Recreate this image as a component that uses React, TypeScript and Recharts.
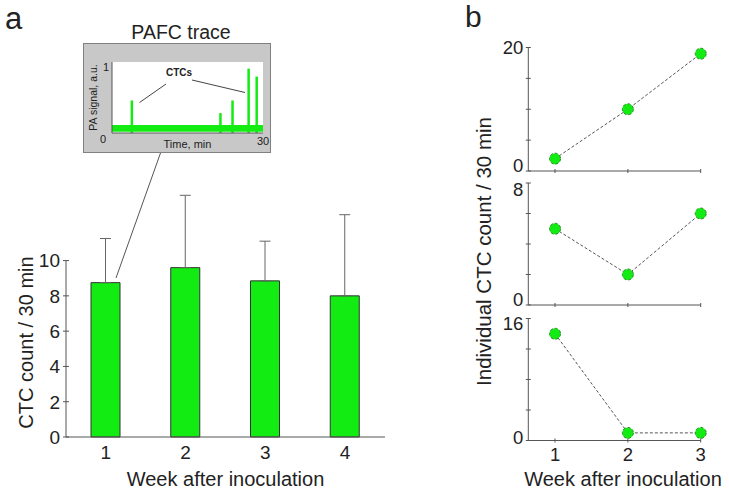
import React from 'react'
import {
  BarChart, Bar, XAxis, YAxis, ErrorBar, ReferenceLine,
  ComposedChart, CartesianGrid, ReferenceArea, LineChart, Line,
} from 'recharts'

const FONT = '"Liberation Sans", Arial, Helvetica, sans-serif'
const GREEN = '#12ec12'
const INK = '#222'
const AXIS = '#555'

// panel a: mean CTC count per 30 min, by week
const weeks = ['1', '2', '3', '4']
const meanCount = [8.75, 9.6, 8.85, 8.0]
const upperErr = [2.5, 4.1, 2.25, 4.6]
const countTicks = [0, 2, 4, 6, 8, 10]

// inset: PAFC trace (time in min, signal in a.u.)
const spikeTime = [3.9, 21.5, 23.9, 27.1, 28.7]
const spikeSignal = [0.49, 0.3, 0.49, 0.97, 0.85]
const noiseBand = [0.02, 0.12]

// panel b: individual animals
const bWeeks = [1, 2, 3]
const animal1 = [2, 10, 19]
const animal2 = [5, 2, 6]
const animal3 = [14, 1, 1]
const animal1Ticks = [0, 5, 10, 15, 20]
const animal2Ticks = [0, 2, 4, 6, 8]
const animal3Ticks = [0, 4, 8, 12, 16]

const barData = weeks.map((w, i) => ({ week: w, count: meanCount[i], err: [0, upperErr[i]] }))
const traceData = spikeTime.map((t, i) => ({ t, s: spikeSignal[i] }))

// tick with a short mark crossing the axis; shift moves an end label off its neighbour
function CrossYTick(props: any) {
  const { x, y, payload, gap, half, labels, fontSize, shift = {} } = props
  const ax = x + gap
  return (
    <g>
      <line x1={ax - half} x2={ax + half} y1={y} y2={y} stroke={AXIS} />
      {labels.includes(payload.value) && (
        <text x={x} y={y + (shift[payload.value] ?? 0)} dy="0.36em" textAnchor="end" fontSize={fontSize} fill={INK} fontFamily={FONT}>
          {payload.value}
        </text>
      )}
    </g>
  )
}

function CrossXTick(props: any) {
  const { x, y, payload, gap, half, showLabel, fontSize } = props
  const ay = y - gap
  return (
    <g>
      <line x1={x} x2={x} y1={ay - half} y2={ay + half} stroke={AXIS} />
      {showLabel && (
        <text x={x} y={y} dy="0.71em" textAnchor="middle" fontSize={fontSize} fill={INK} fontFamily={FONT}>
          {payload.value}
        </text>
      )}
    </g>
  )
}

function InsetYTick(props: any) {
  const { x, y, payload } = props
  const shift = payload.value === 0 ? 6 : 0
  return (
    <text x={x - (payload.value === 0 ? 3 : 0)} y={y + shift} dy="0.36em" textAnchor="end" fontSize={11} fill={INK} fontFamily={FONT}>
      {payload.value}
    </text>
  )
}

function IndividualChart({ values, ticks, top, height, marginTop, xHeight, showX, shift }: any) {
  const data = bWeeks.map((w, i) => ({ week: w, v: values[i] }))
  const max = ticks[ticks.length - 1]
  return (
    <div style={{ position: 'absolute', left: 470, top }}>
      <LineChart width={259} height={height} data={data} margin={{ top: marginTop, right: 28.3, left: 0, bottom: 0 }}>
        <XAxis
          dataKey="week" type="number" domain={[0.633, 3]} ticks={bWeeks} height={xHeight} interval={0}
          axisLine={{ stroke: AXIS }} tickLine={false} tickSize={0} tickMargin={7.5}
          tick={<CrossXTick gap={7.5} half={2} showLabel={showX} fontSize={18.5} />}
        />
        <YAxis
          type="number" domain={[0, max]} ticks={ticks} width={58.3} interval={0}
          axisLine={{ stroke: AXIS }} tickLine={false} tickSize={0} tickMargin={5}
          tick={<CrossYTick gap={5} half={2.5} labels={[0, max]} fontSize={18.5} shift={shift} />}
        />
        <Line
          dataKey="v" stroke="#555" strokeWidth={1} strokeDasharray="3 2"
          dot={{ r: 5.5, fill: GREEN, stroke: '#2a8a2a', strokeWidth: 1 }}
          isAnimationActive={false}
        />
      </LineChart>
    </div>
  )
}

export default function App() {
  return (
    <div style={{ position: 'absolute', left: 0, top: 0, width: 729, height: 493, background: '#fff', fontFamily: FONT }}>
      {/* panel a: mean counts */}
      <div style={{ position: 'absolute', left: 0, top: 0 }}>
        <BarChart width={400} height={493} data={barData} margin={{ top: 190, right: 15, left: 0, bottom: 0 }}>
          <XAxis
            dataKey="week" height={56} interval={0} axisLine={{ stroke: AXIS }} tickLine={false} tickSize={0} tickMargin={9}
            tick={{ fill: INK, fontSize: 19, fontFamily: FONT }}
            label={{ value: 'Week after inoculation', position: 'insideBottom', offset: 7, fill: INK, fontSize: 20, fontFamily: FONT }}
          />
          <YAxis
            type="number" domain={[0, 14]} ticks={countTicks} width={66} interval={0}
            axisLine={false} tickLine={false} tickSize={0} tickMargin={6}
            tick={<CrossYTick gap={6} half={3} labels={countTicks} fontSize={19} />}
          />
          <ReferenceLine segment={[{ x: '1', y: 0 }, { x: '1', y: 10 }]} position="start" stroke={AXIS} ifOverflow="visible" />
          <Bar dataKey="count" barSize={29} fill={GREEN} stroke="#333" strokeWidth={1} isAnimationActive={false}>
            <ErrorBar dataKey="err" width={5.5} stroke="#666" strokeWidth={1} direction="y" isAnimationActive={false} />
          </Bar>
        </BarChart>
      </div>

      {/* inset: PAFC trace */}
      <div style={{ position: 'absolute', left: 83, top: 43, width: 188, height: 110, boxSizing: 'border-box', border: '1px solid #808080', background: '#c8c8c8' }}>
        <ComposedChart width={186} height={108} data={traceData} margin={{ top: 18, right: 7, left: 0, bottom: 0 }}>
          <CartesianGrid fill="#fff" stroke="none" horizontal={false} vertical={false} />
          <XAxis
            dataKey="t" type="number" domain={[0, 30]} ticks={[30]} height={19} interval={0}
            axisLine={{ stroke: AXIS }} tickLine={false} tickSize={0} tickMargin={4}
            tick={{ fill: INK, fontSize: 11, fontFamily: FONT }}
            label={{ value: 'Time, min', position: 'insideBottom', offset: 4, fill: INK, fontSize: 11, fontFamily: FONT }}
          />
          <YAxis
            type="number" domain={[0, 1.07]} ticks={[0, 1]} width={28} interval={0}
            axisLine={{ stroke: AXIS }} tickLine={false} tickSize={0} tickMargin={3}
            tick={<InsetYTick />}
          />
          <ReferenceArea x1={0} x2={30} y1={noiseBand[0]} y2={noiseBand[1]} fill={GREEN} fillOpacity={1} stroke="none" />
          <Bar dataKey="s" barSize={2.5} fill={GREEN} isAnimationActive={false} />
        </ComposedChart>
      </div>

      {/* panel b: individual animals */}
      <IndividualChart values={animal1} ticks={animal1Ticks} top={30} height={147} marginTop={17.5} xHeight={6} showX={false} shift={{ 0: -5.5 }} />
      <IndividualChart values={animal2} ticks={animal2Ticks} top={175} height={136} marginTop={8} xHeight={6} showX={false} shift={{ 8: 6, 0: -5.5 }} />
      <IndividualChart values={animal3} ticks={animal3Ticks} top={310} height={183} marginTop={8.5} xHeight={52.5} showX={true} shift={{ 16: 5, 0: -3 }} />

      {/* annotations */}
      <svg width={729} height={493} style={{ position: 'absolute', left: 0, top: 0, pointerEvents: 'none', overflow: 'visible' }} fontFamily={FONT}>
        <text x={5} y={29} fontSize={31} fill={INK}>a</text>
        <text x={465} y={27} fontSize={30} fill={INK}>b</text>
        <text x={181} y={38.5} fontSize={19.5} fill={INK} textAnchor="middle">PAFC trace</text>
        <text x={179} y={76} fontSize={10} fontWeight="bold" fill={INK} textAnchor="middle">CTCs</text>
        <line x1={166} y1={84} x2={139.5} y2={102.5} stroke="#444" />
        <line x1={192} y1={80} x2={245} y2={92.5} stroke="#444" />
        <text transform="translate(92.5,97.5) rotate(-90)" fontSize={10.5} fill={INK} textAnchor="middle" dominantBaseline="central">PA signal, a.u.</text>
        <line x1={160.5} y1={153} x2={116} y2={278} stroke="#555" />
        <text transform="translate(25.5,342.5) rotate(-90)" fontSize={20} fill={INK} textAnchor="middle" dominantBaseline="central">CTC count / 30 min</text>
        <text transform="translate(483.5,251.5) rotate(-90)" fontSize={20.5} fill={INK} textAnchor="middle" dominantBaseline="central">Individual CTC count / 30 min</text>
        <text x={623} y={486} fontSize={20} fill={INK} textAnchor="middle">Week after inoculation</text>
      </svg>
    </div>
  )
}
